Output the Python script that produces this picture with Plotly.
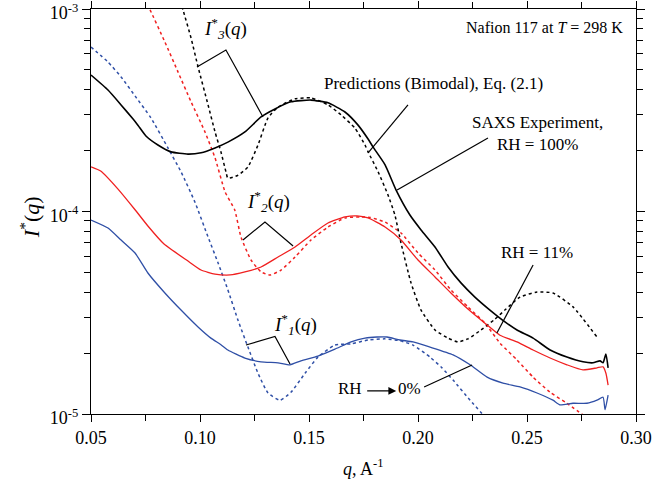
import numpy as np
import plotly.graph_objects as go

# ---- SAXS experiment, RH = 100 %
q_exp100 = [0.0500, 0.0578, 0.0638, 0.0693, 0.0716, 0.0752, 0.0807, 0.0867, 0.0945, 0.1005,
            0.1069, 0.1128, 0.1206, 0.1280, 0.1344, 0.1417, 0.1509, 0.1587, 0.1665, 0.1725,
            0.1771, 0.1794, 0.1849, 0.1899, 0.1963, 0.2014, 0.2078, 0.2138, 0.2197, 0.2261,
            0.2330, 0.2399, 0.2454, 0.2528, 0.2606, 0.2683, 0.2757, 0.2803, 0.2835, 0.2849,
            0.2862, 0.2872]
I_exp100 = [4.72e-4, 3.98e-4, 3.36e-4, 2.86e-4, 2.66e-4, 2.36e-4, 2.13e-4, 1.97e-4, 1.92e-4, 1.95e-4,
            2.06e-4, 2.20e-4, 2.47e-4, 2.93e-4, 3.21e-4, 3.48e-4, 3.55e-4, 3.44e-4, 3.10e-4, 2.67e-4,
            2.28e-4, 2.08e-4, 1.70e-4, 1.28e-4, 9.61e-5, 8.11e-5, 6.68e-5, 5.32e-5, 4.44e-5, 3.78e-5,
            3.26e-5, 2.85e-5, 2.60e-5, 2.37e-5, 2.07e-5, 1.91e-5, 1.81e-5, 1.79e-5, 1.83e-5, 1.79e-5,
            1.98e-5, 1.69e-5]

# ---- bimodal prediction I*3(q)
q_pred3 = [0.0908, 0.0922, 0.0959, 0.0991, 0.1037, 0.1069, 0.1096, 0.1119, 0.1128, 0.1174,
           0.1220, 0.1266, 0.1312, 0.1358, 0.1436, 0.1509, 0.1587, 0.1647, 0.1711, 0.1757,
           0.1771, 0.1817, 0.1862, 0.1894, 0.1922, 0.1968, 0.2014, 0.2078, 0.2138, 0.2183,
           0.2229, 0.2289, 0.2353, 0.2404, 0.2468, 0.2546, 0.2619, 0.2711, 0.2821]
I_pred3 = [1.10e-3, 9.89e-4, 7.19e-4, 5.18e-4, 3.36e-4, 2.47e-4, 1.97e-4, 1.57e-4, 1.46e-4, 1.51e-4,
           1.66e-4, 2.13e-4, 2.90e-4, 3.28e-4, 3.60e-4, 3.64e-4, 3.36e-4, 3.00e-4, 2.58e-4, 2.13e-4,
           1.97e-4, 1.57e-4, 1.21e-4, 9.61e-5, 6.99e-5, 4.44e-5, 3.26e-5, 2.60e-5, 2.37e-5, 2.27e-5,
           2.35e-5, 2.60e-5, 2.94e-5, 3.30e-5, 3.78e-5, 4.00e-5, 3.96e-5, 3.38e-5, 2.40e-5]

# ---- SAXS experiment, RH = 11 %
q_exp11 = [0.0500, 0.0546, 0.0624, 0.0702, 0.0761, 0.0835, 0.0945, 0.1005, 0.1069, 0.1138,
           0.1206, 0.1280, 0.1358, 0.1436, 0.1509, 0.1587, 0.1665, 0.1720, 0.1771, 0.1849,
           0.1922, 0.2000, 0.2078, 0.2151, 0.2229, 0.2307, 0.2376, 0.2454, 0.2528, 0.2606,
           0.2683, 0.2757, 0.2821, 0.2849, 0.2862, 0.2872]
I_exp11 = [1.66e-4, 1.58e-4, 1.29e-4, 1.02e-4, 8.48e-5, 6.91e-5, 5.69e-5, 5.14e-5, 4.91e-5, 4.86e-5,
           5.03e-5, 5.32e-5, 5.96e-5, 6.68e-5, 7.66e-5, 8.77e-5, 9.40e-5, 9.51e-5, 9.29e-5, 8.38e-5,
           7.23e-5, 5.76e-5, 4.75e-5, 3.96e-5, 3.30e-5, 2.81e-5, 2.45e-5, 2.27e-5, 2.07e-5, 1.89e-5,
           1.75e-5, 1.65e-5, 1.69e-5, 1.71e-5, 1.59e-5, 1.39e-5]

# ---- bimodal prediction I*2(q)
q_pred2 = [0.0757, 0.0771, 0.0839, 0.0899, 0.0959, 0.1023, 0.1069, 0.1115, 0.1159, 0.1188,
           0.1234, 0.1280, 0.1321, 0.1372, 0.1436, 0.1509, 0.1587, 0.1665, 0.1739, 0.1780,
           0.1849, 0.1922, 0.2000, 0.2078, 0.2151, 0.2229, 0.2307, 0.2376, 0.2454, 0.2528,
           0.2606, 0.2683, 0.2757]
I_pred2 = [1.05e-3, 9.89e-4, 6.87e-4, 4.89e-4, 3.48e-4, 2.47e-4, 1.84e-4, 1.25e-4, 1.02e-4, 7.48e-5,
           5.76e-5, 5.03e-5, 4.86e-5, 5.14e-5, 5.96e-5, 7.23e-5, 8.38e-5, 9.29e-5, 9.40e-5, 9.35e-5,
           8.86e-5, 7.83e-5, 6.24e-5, 5.14e-5, 4.10e-5, 3.38e-5, 2.81e-5, 2.24e-5, 1.85e-5, 1.52e-5,
           1.28e-5, 1.13e-5, 9.89e-6]

# ---- SAXS experiment, RH -> 0 %
q_exp0 = [0.0500, 0.0578, 0.0638, 0.0702, 0.0761, 0.0839, 0.0913, 0.0991, 0.1050, 0.1096,
          0.1128, 0.1206, 0.1280, 0.1358, 0.1413, 0.1463, 0.1541, 0.1619, 0.1693, 0.1757,
          0.1812, 0.1858, 0.1917, 0.1977, 0.2055, 0.2161, 0.2239, 0.2317, 0.2390, 0.2468,
          0.2546, 0.2619, 0.2651, 0.2711, 0.2775, 0.2821, 0.2849, 0.2858, 0.2872]
I_exp0 = [9.08e-5, 8.29e-5, 7.23e-5, 6.24e-5, 4.97e-5, 3.96e-5, 3.26e-5, 2.69e-5, 2.37e-5, 2.20e-5,
          2.07e-5, 1.89e-5, 1.81e-5, 1.79e-5, 1.75e-5, 1.83e-5, 1.93e-5, 2.09e-5, 2.27e-5, 2.37e-5,
          2.40e-5, 2.40e-5, 2.32e-5, 2.27e-5, 2.14e-5, 1.96e-5, 1.75e-5, 1.52e-5, 1.42e-5, 1.36e-5,
          1.27e-5, 1.17e-5, 1.11e-5, 1.13e-5, 1.13e-5, 1.17e-5, 1.21e-5, 1.05e-5, 1.24e-5]

# ---- bimodal prediction I*1(q)
q_pred1 = [0.0500, 0.0578, 0.0638, 0.0706, 0.0775, 0.0853, 0.0913, 0.0977, 0.1037, 0.1083,
           0.1128, 0.1174, 0.1220, 0.1266, 0.1312, 0.1367, 0.1417, 0.1482, 0.1541, 0.1619,
           0.1693, 0.1771, 0.1849, 0.1917, 0.1977, 0.2055, 0.2110, 0.2161, 0.2239, 0.2312]
I_pred1 = [6.49e-4, 5.47e-4, 4.62e-4, 3.67e-4, 2.90e-4, 2.06e-4, 1.57e-4, 1.11e-4, 7.48e-5, 5.57e-5,
           4.10e-5, 2.91e-5, 2.14e-5, 1.59e-5, 1.27e-5, 1.17e-5, 1.28e-5, 1.59e-5, 1.91e-5, 2.19e-5,
           2.22e-5, 2.32e-5, 2.35e-5, 2.30e-5, 2.19e-5, 1.91e-5, 1.69e-5, 1.47e-5, 1.17e-5, 9.55e-6]

x_ticks = [0.05, 0.10, 0.15, 0.20, 0.25, 0.30]
x_ticktext = ["0.05", "0.10", "0.15", "0.20", "0.25", "0.30"]
y_ticks = [1e-5, 1e-4, 1e-3]
y_ticktext = ["10<sup>-5</sup>", "10<sup>-4</sup>", "10<sup>-3</sup>"]

BLACK = "#000000"
RED = "#f02020"
BLUE = "#2f4fa6"
SERIF = "Liberation Serif"

fig = go.Figure()


def curve(q, i, color, dash, width):
    fig.add_trace(go.Scatter(x=q, y=i, mode="lines", showlegend=False, hoverinfo="skip",
                             line=dict(color=color, width=width, dash=dash, shape="spline",
                                       smoothing=0.5)))


curve(q_pred1, I_pred1, BLUE, "dot", 1.5)
curve(q_pred2, I_pred2, RED, "dot", 1.5)
curve(q_pred3, I_pred3, BLACK, "dot", 1.5)
curve(q_exp0, I_exp0, BLUE, "solid", 1.3)
curve(q_exp11, I_exp11, RED, "solid", 1.3)
curve(q_exp100, I_exp100, BLACK, "solid", 1.6)


# leader lines and brackets for the labels (q, log10 I)
def leader(qs, logs):
    fig.add_trace(go.Scatter(x=qs, y=[10 ** v for v in logs], mode="lines", showlegend=False,
                             hoverinfo="skip", line=dict(color=BLACK, width=1.2)))


leader([0.0986, 0.1119, 0.1289], [-3.2864, -3.2025, -3.5333])   # I*3
leader([0.1197, 0.1298, 0.1427], [-4.1407, -4.0519, -4.1704])   # I*2
leader([0.1211, 0.1344, 0.1413], [-4.6593, -4.6173, -4.7531])   # I*1
leader([0.1954, 0.1771], [-3.474, -3.711])                      # predictions
leader([0.2321, 0.1904], [-3.637, -3.894])                      # SAXS
leader([0.2528, 0.2362], [-4.264, -4.600])                      # RH = 11 %
leader([0.2028, 0.2248], [-4.867, -4.758])                      # RH -> 0 %


def label(q, logI, text, size=16, xanchor="center"):
    fig.add_annotation(x=q, y=logI, xref="x", yref="y", text=text, showarrow=False,
                       xanchor=xanchor, yanchor="middle",
                       font=dict(family=SERIF, size=size, color=BLACK))


label(0.2950, -3.089, "Nafion 117 at <i>T</i> = 298 K", xanchor="right")
label(0.1560, -3.366, "Predictions (Bimodal), Eq. (2.1)", size=17, xanchor="left")
label(0.2550, -3.617, "SAXS Experiment,<br>RH = 100%", size=17)
label(0.2546, -4.200, "RH = 11%", size=17)
label(0.1688, -4.872, "RH", size=17)
label(0.1963, -4.872, "0%", size=17)
label(0.1119, -3.094, "<i>I</i><sup>*</sup><sub><i>3</i></sub>(<i>q</i>)", size=19)
label(0.1312, -3.953, "<i>I</i><sup>*</sup><sub><i>2</i></sub>(<i>q</i>)", size=19)
label(0.1436, -4.560, "<i>I</i><sup>*</sup><sub><i>1</i></sub>(<i>q</i>)", size=19)

# arrow RH -> 0%
fig.add_annotation(x=0.1900, y=-4.886, xref="x", yref="y", ax=0.1760, ay=-4.886,
                   axref="x", ayref="y", text="", showarrow=True, arrowhead=2,
                   arrowsize=1.3, arrowwidth=1.2, arrowcolor=BLACK)

# axis titles
fig.add_annotation(x=-0.112, y=0.486, xref="paper", yref="paper", textangle=-90,
                   xanchor="center", yanchor="middle",
                   text="<i>I</i><sup>*</sup>(<i>q</i>)", showarrow=False,
                   font=dict(family=SERIF, size=22, color=BLACK))
fig.add_annotation(x=0.5, y=-0.133, xref="paper", yref="paper",
                   xanchor="center", yanchor="middle",
                   text="<i>q</i>, A<sup>-1</sup>", showarrow=False,
                   font=dict(family=SERIF, size=18, color=BLACK))

y_minor = [m * 10.0 ** e for e in (-5, -4) for m in range(2, 10)]
x_minor = [0.075, 0.125, 0.175, 0.225, 0.275]

fig.update_xaxes(range=[0.05, 0.30], tickvals=x_ticks, ticktext=x_ticktext, automargin=False,
                 ticklabeloverflow="allow",
                 showline=True, linecolor=BLACK, linewidth=1.2, mirror="allticks",
                 ticks="outside", ticklen=7, tickwidth=1, tickcolor=BLACK,
                 showgrid=False, zeroline=False,
                 tickfont=dict(family=SERIF, size=18, color=BLACK),
                 minor=dict(tickvals=x_minor, ticks="outside", ticklen=6, tickwidth=1,
                            tickcolor=BLACK, showgrid=False))
fig.update_yaxes(type="log", range=[-5, -3], tickvals=y_ticks, ticktext=y_ticktext, automargin=False,
                 ticklabeloverflow="allow", ticklabelshift=4,
                 showline=True, linecolor=BLACK, linewidth=1.2, mirror="allticks",
                 ticks="outside", ticklen=8, tickwidth=1, tickcolor=BLACK,
                 showgrid=False, zeroline=False,
                 tickfont=dict(family=SERIF, size=18, color=BLACK),
                 minor=dict(tickvals=y_minor, ticks="outside", ticklen=6, tickwidth=1,
                            tickcolor=BLACK, showgrid=False))

fig.update_layout(width=652, height=491, margin=dict(l=91, r=16, t=9, b=77),
                  paper_bgcolor="white", plot_bgcolor="white", showlegend=False,
                  font=dict(family=SERIF, color=BLACK))

fig.write_html("out.html")
